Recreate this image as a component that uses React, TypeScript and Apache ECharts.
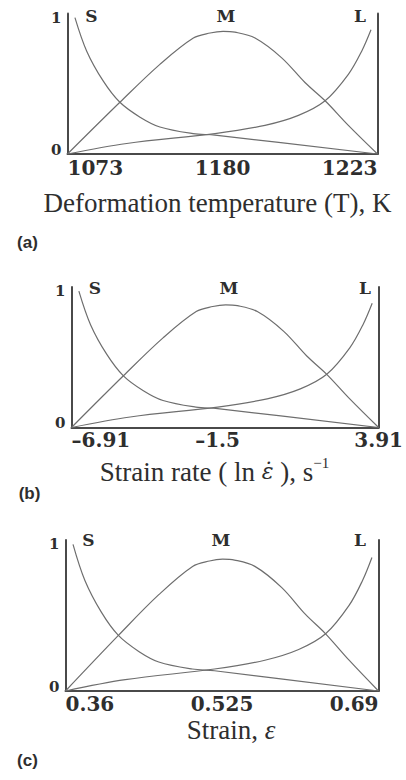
import React, { useEffect, useRef } from "react";
import * as echarts from "echarts";

// Membership curves (x normalised 0..1 across the universe of discourse)
const sX = [0.024, 0.062, 0.115, 0.169, 0.234, 0.298, 0.405, 0.476, 1.0];
const sY = [1.0, 0.754, 0.536, 0.379, 0.27, 0.198, 0.15, 0.138, 0.0];
const mX = [0, 0.169, 0.298, 0.406, 0.46, 0.502, 0.54, 0.605, 0.691, 0.766, 0.831, 0.906, 1.0];
const mY = [0, 0.379, 0.657, 0.85, 0.887, 0.899, 0.893, 0.85, 0.705, 0.524, 0.39, 0.21, 0];
const lX = [0, 0.191, 0.476, 0.637, 0.745, 0.831, 0.906, 0.949, 0.979];
const lY = [0, 0.077, 0.15, 0.21, 0.283, 0.39, 0.584, 0.754, 0.911];

const curveNames = ["S", "M", "L"];
const tempTicks = ["1073", "1180", "1223"];
const rateTicks = ["\u20136.91", "\u20131.5", "3.91"];
const strainTicks = ["0.36", "0.525", "0.69"];
const yTickLabels = ["0", "1"];
const panelTags = ["(a)", "(b)", "(c)"];

const pair = (xs: number[], ys: number[]) => xs.map((x, i) => [x, ys[i]]);

const AXIS = "#4a4a4a";
const CURVE = "#6e6e6e";
const TEXT = "#2e2e2e";
const Y_MAX = 1.03;

const panels = [
  {
    grid: { left: 67.5, right: 28.5, top: 13.5, height: 140.5 },
    ticks: tempTicks,
    name: "Deformation temperature (T), K",
    nameGap: 49,
    namePad: [0, 10, 0, 0],
    labelMargin: 13.5,
    maxAlign: "right",
    midPad: [0, 0, 0, 0],
    letters: [[91.5, 15.5], [226, 15.5], [360, 15.5]],
    tag: [27.5, 242.5],
  },
  {
    grid: { left: 71.5, right: 23, top: 287, height: 140.5 },
    ticks: rateTicks,
    name: "{t|Strain rate ( ln }{d|\u03b5\u0307}{t| ), s}{sup|\u22121}",
    nameGap: 44,
    namePad: [0, 21, 0, 0],
    labelMargin: 12.5,
    maxAlign: "center",
    midPad: [0, 15, 0, 0],
    letters: [[95, 287.5], [229, 287.5], [365, 287.5]],
    tag: [29.5, 493],
  },
  {
    grid: { left: 65.5, right: 27.5, top: 540, height: 151 },
    ticks: strainTicks,
    name: "{t|Strain, }{e|\u03b5}",
    nameGap: 38.5,
    namePad: [0, 0, 0, 18],
    labelMargin: 13,
    maxAlign: "right",
    midPad: [0, 0, 0, 0],
    letters: [[88.5, 540], [221, 540], [360, 540]],
    tag: [27.5, 760],
  },
];

export default function App() {
  const ref = useRef<HTMLDivElement>(null);

  useEffect(() => {
    if (!ref.current) return;
    const chart = echarts.init(ref.current, null, { renderer: "svg" });

    const titleRich = {
      t: { fontFamily: "Liberation Serif", fontSize: 27, color: TEXT, lineHeight: 32 },
      e: { fontFamily: "Liberation Serif", fontStyle: "italic", fontSize: 27, color: TEXT, lineHeight: 32 },
      d: { fontFamily: "DejaVu Serif", fontStyle: "italic", fontSize: 22, color: TEXT, lineHeight: 32 },
      sup: { fontFamily: "Liberation Serif", fontSize: 15, color: TEXT, lineHeight: 15, verticalAlign: "top" },
    };

    const xAxis = panels.map((p, i) => ({
      gridIndex: i,
      type: "value",
      min: 0,
      max: 1,
      interval: 0.5,
      axisLine: { show: true, onZero: false, lineStyle: { color: AXIS, width: 2 } },
      axisTick: { show: false },
      splitLine: { show: false },
      axisLabel: {
        fontFamily: "DejaVu Serif",
        fontWeight: "bold",
        fontSize: 20,
        color: TEXT,
        margin: p.labelMargin,
        verticalAlign: "middle",
        alignMinLabel: "left",
        alignMaxLabel: p.maxAlign,
        formatter: (v: number) => {
          const idx = Math.round(v / 0.5);
          if (idx === 1) return "{m|" + p.ticks[1] + "}";
          return p.ticks[idx] ?? "";
        },
        rich: {
          m: { fontFamily: "DejaVu Serif", fontWeight: "bold", fontSize: 20, color: TEXT, padding: p.midPad },
        },
      },
      name: p.name,
      nameLocation: "middle",
      nameGap: p.nameGap,
      nameTextStyle: {
        fontFamily: "Liberation Serif",
        fontSize: 27,
        color: TEXT,
        verticalAlign: "middle",
        padding: p.namePad,
        rich: titleRich,
      },
    }));

    const yAxis: any[] = [];
    panels.forEach((p, i) => {
      yAxis.push({
        gridIndex: i,
        type: "value",
        min: 0,
        max: Y_MAX,
        interval: 1,
        position: "left",
        axisLine: { show: true, onZero: false, lineStyle: { color: AXIS, width: 2 } },
        axisTick: { show: false },
        splitLine: { show: false },
        axisLabel: {
          fontFamily: "DejaVu Serif",
          fontWeight: "bold",
          fontSize: 15,
          color: TEXT,
          margin: 6,
          formatter: (v: number) => {
            if (v === 0) return "{z|" + yTickLabels[0] + "}";
            if (v === 1) return "{o|" + yTickLabels[1] + "}";
            return "";
          },
          rich: {
            z: { fontFamily: "DejaVu Serif", fontWeight: "bold", fontSize: 15, color: TEXT, padding: [0, 0, 9, 0] },
            o: { fontFamily: "DejaVu Serif", fontWeight: "bold", fontSize: 15, color: TEXT },
          },
        },
      });
      yAxis.push({
        gridIndex: i,
        type: "value",
        min: 0,
        max: Y_MAX,
        interval: 1,
        position: "right",
        axisLine: { show: true, onZero: false, lineStyle: { color: AXIS, width: 2 } },
        axisTick: { show: false },
        splitLine: { show: false },
        axisLabel: { show: false },
      });
    });

    const curves = [pair(sX, sY), pair(mX, mY), pair(lX, lY)];
    const series: any[] = [];
    panels.forEach((_, i) => {
      curves.forEach((d, k) => {
        series.push({
          name: curveNames[k],
          type: "line",
          xAxisIndex: i,
          yAxisIndex: 2 * i,
          data: d,
          showSymbol: false,
          smooth: 0.35,
          silent: true,
          lineStyle: { color: CURVE, width: 1.2 },
        });
      });
    });

    const graphic: any[] = [];
    panels.forEach((p, i) => {
      p.letters.forEach((pos, k) => {
        graphic.push({
          type: "text",
          x: pos[0],
          y: pos[1],
          style: {
            text: curveNames[k],
            fontFamily: "DejaVu Serif",
            fontWeight: "bold",
            fontSize: 17,
            fill: TEXT,
            align: "center",
            verticalAlign: "middle",
          },
        });
      });
      graphic.push({
        type: "text",
        x: p.tag[0],
        y: p.tag[1],
        style: {
          text: panelTags[i],
          fontFamily: "Liberation Sans",
          fontWeight: "bold",
          fontSize: 17,
          fill: TEXT,
          align: "center",
          verticalAlign: "middle",
        },
      });
    });

    chart.setOption({
      animation: false,
      backgroundColor: "#ffffff",
      grid: panels.map((p) => ({ ...p.grid, containLabel: false })),
      xAxis,
      yAxis,
      series,
      graphic,
    });

    return () => chart.dispose();
  }, []);

  return (
    <div
      ref={ref}
      style={{ position: "fixed", left: 0, top: 0, width: 406, height: 780 }}
    />
  );
}
